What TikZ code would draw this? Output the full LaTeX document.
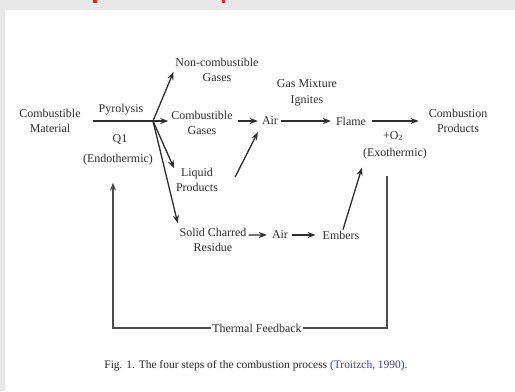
\documentclass[tikz,border=0pt]{standalone}
\usepackage{fontspec}
\setmainfont{Liberation Serif}
\usetikzlibrary{positioning, arrows.meta, calc}
\definecolor{inkColor}{HTML}{2E2E2E}
\definecolor{pageColor}{HTML}{E8E8E8}
\definecolor{citeColor}{HTML}{3B3F9E}
\definecolor{headColor}{HTML}{FF1A1A}
\tikzset{
    stage/.style={
        rectangle,
        inner sep=1pt,
        align=center,
        text=inkColor,
        font=\fontsize{12}{15.5}\selectfont,
    },
    flow/.style={
        -{Stealth[length=8bp, width=6bp]},
        line width=1.3bp,
        draw=inkColor,
    },
    feed line/.style={
        line width=1.3bp,
        draw=inkColor!85,
    },
}

\begin{document}
\begin{tikzpicture}[x=1bp, y=-1bp]

% ── PAGE ───────────────────────────────────────────────────────────

\useasboundingbox (0,0) rectangle (515,391);
\fill[pageColor] (0,0) rectangle (515,391);
\fill[white] (5,10) rectangle (515,391);
\fill[headColor] (93,0) rectangle (97,3);
\fill[headColor] (222,0) rectangle (225,3);

% ── PYROLYSIS ──────────────────────────────────────────────────────

\node[stage] (material) at (50,121) {Combustible\\Material};
\node[stage] (pyrolysis) at (121,110) {Pyrolysis};
\node[stage] (q1) at (120,140) {Q1};
\node[stage] (endo) at (118,160) {(Endothermic)};
\coordinate (branch) at (153,121);

\node[stage] (noncomb) at (217,70) {Non-combustible\\Gases};
\node[stage] (combgas) at (202,123) {Combustible\\Gases};
\node[stage] (liquid) at (197,180) {Liquid\\Products};
\node[stage] (residue) at (213,240) {Solid Charred\\Residue};

% ── COMBUSTION ─────────────────────────────────────────────────────

\node[stage] (air) at (270,121) {Air};
\node[stage] (ignites) at (307,93) {Gas Mixture\\Ignites};
\node[stage] (flame) at (351,121) {Flame};
\node[stage] (o2) at (393,136) {+O\textsubscript{2}};
\node[stage] (exo) at (395,154) {(Exothermic)};
\node[stage] (products) at (458,121) {Combustion\\Products};

\node[stage] (air2) at (280,235) {Air};
\node[stage] (embers) at (341,235) {Embers};

% ── FEEDBACK + CAPTION ─────────────────────────────────────────────

\node[stage] (feedback) at (257,328) {Thermal Feedback};
\node[stage, text=black!85, font=\fontsize{11.5}{14}\selectfont] (caption) at (256,366) {Fig. 1. The four steps of the combustion process \textcolor{citeColor}{(Troitzch, 1990).}};

% ── ARROWS ─────────────────────────────────────────────────────────

% Pyrolysis split
\draw[flow] ([xshift=11]material.east) -- (branch) -- ([xshift=-2]combgas.west |- branch);
\draw[flow, shorten >=2bp] (branch) -- (noncomb.west);
\draw[flow, shorten >=2bp] (branch) -- ([yshift=10]liquid.west);
\draw[flow, shorten >=3bp] (branch) -- ([yshift=14]residue.west);

% Gases to flame
\draw[flow, shorten <=4bp, shorten >=3bp] (combgas.east |- air.west) -- (air.west);
\draw[flow] ($(liquid.east)+(16,-3)$) -- ($(air.south west)+(-3,6)$);
\draw[flow, shorten <=2bp, shorten >=4bp] (air) -- (flame);
\draw[flow, shorten <=5bp, shorten >=9bp] (flame) -- (products.west |- flame);

% Char to embers
\draw[flow] ([xshift=1,yshift=5]residue.east) -- ([xshift=-4]air2.west);
\draw[flow, shorten <=3bp, shorten >=6bp] (air2) -- (embers);
\draw[flow] ($(embers.north)+(2,0)$) -- ($(exo.south west)+(0,7)$);

% Thermal feedback loop
\draw[feed line] ($(exo.south)+(-8,15)$) |- (feedback.east);
\draw[feed line, -{Stealth[length=8bp, width=6bp]}] (feedback.west) -| ($(endo.south)+(-5,16)$);

\end{tikzpicture}
\end{document}
